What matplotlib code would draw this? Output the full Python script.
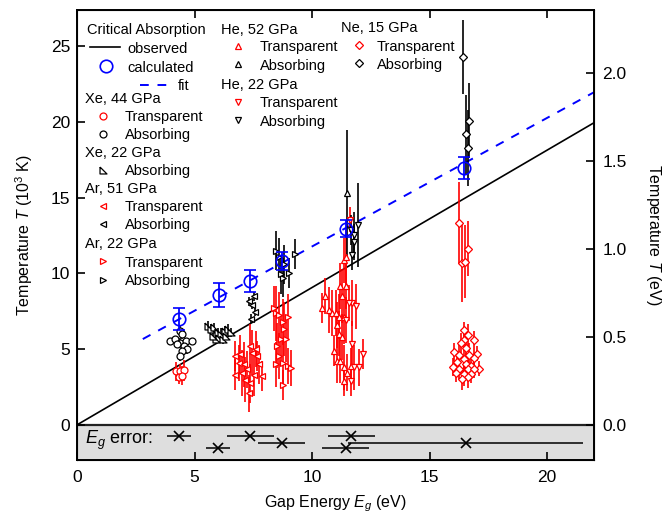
import numpy as np
import matplotlib
matplotlib.use("Agg")
import matplotlib.pyplot as plt

plt.rcParams['font.family'] = ['Liberation Sans', 'DejaVu Sans']
plt.rcParams['mathtext.fontset'] = 'custom'
plt.rcParams['mathtext.rm'] = 'Liberation Sans'
plt.rcParams['mathtext.it'] = 'Liberation Sans:italic'

K_PER_EV = 11.6045  # 10^3 K per eV

# critical absorption lines
obs_slope = 0.907
fit_slope, fit_icpt = 0.849, 3.29
fit_x0 = 2.8

# calculated points
calc_x = [4.36, 6.03, 7.38, 8.72, 11.45, 16.47]
calc_y = [7.0, 8.6, 9.5, 10.85, 12.95, 16.95]
calc_e = [0.75, 0.8, 0.7, 0.6, 0.55, 0.72]

# Xe 44 GPa
xe44_t_x = [4.23, 4.40, 4.55, 4.33, 4.48]
xe44_t_y = [3.53, 3.53, 3.60, 3.19, 3.26]
xe44_t_e = [0.6, 0.5, 0.7, 0.5, 0.6]
xe44_a_x = [4.37, 4.48, 3.97, 4.19, 4.40, 4.62, 4.91, 4.55, 4.69, 4.48, 4.40, 4.26]
xe44_a_y = [6.22, 6.00, 5.55, 5.66, 5.44, 5.55, 5.55, 5.21, 4.99, 4.87, 4.54, 5.32]
xe44_a_e = [0.3, 0.3, 0.2, 0.2, 0.3, 0.2, 0.2, 0.3, 0.3, 0.3, 0.3, 0.2]

# Xe 22 GPa
xe22_a_x = [5.56, 5.70, 5.85, 5.99, 6.14, 6.28, 6.43, 6.57, 6.06, 6.21, 5.92, 5.77, 6.35]
xe22_a_y = [6.56, 6.34, 6.45, 6.11, 6.00, 6.23, 6.34, 6.11, 5.77, 5.66, 5.66, 5.89, 5.89]
xe22_a_e = [0.3, 0.3, 0.3, 0.3, 0.4, 0.3, 0.3, 0.3, 0.3, 0.3, 0.3, 0.3, 0.3]

# Ar 51 GPa
ar51_t_x = [6.73, 6.95, 6.88, 6.73, 7.02, 7.23, 7.38, 7.45, 7.60, 7.67, 7.74, 7.89, 7.16, 7.38, 7.31, 7.52, 7.09]
ar51_t_y = [4.55, 4.66, 4.10, 3.32, 3.43, 3.66, 5.23, 4.77, 5.00, 4.55, 3.99, 3.21, 2.98, 2.75, 2.08, 3.32, 4.00]
ar51_t_e = [1.0, 1.3, 1.2, 1.0, 1.5, 1.2, 1.4, 1.5, 1.2, 1.0, 1.3, 1.0, 1.5, 1.3, 1.2, 1.4, 1.5]
ar51_a_x = [7.52, 7.34, 7.45, 7.57, 7.42]
ar51_a_y = [8.48, 8.15, 7.92, 7.47, 7.02]
ar51_a_e = [0.3, 0.3, 0.3, 0.3, 0.3]

# Ar 22 GPa
ar22_t_x = [8.39, 8.46, 8.60, 8.75, 8.97, 8.82, 8.68, 8.53, 8.60, 8.75, 8.46, 8.97, 9.11, 8.75, 8.89]
ar22_t_y = [7.70, 7.36, 7.25, 6.80, 7.13, 6.34, 5.67, 5.23, 4.55, 4.10, 3.99, 3.88, 3.77, 2.64, 5.67]
ar22_t_e = [1.5, 1.8, 1.5, 1.5, 1.5, 1.8, 1.5, 1.5, 1.5, 1.5, 1.5, 1.2, 1.2, 1.0, 1.5]
ar22_a_x = [8.46, 8.60, 8.75, 8.68, 9.04, 9.26, 8.82]
ar22_a_y = [11.51, 11.06, 9.72, 9.94, 10.05, 11.28, 10.61]
ar22_a_e = [1.3, 1.3, 1.3, 1.3, 1.0, 1.0, 1.3]

# He 52 GPa
he52_t_x = [11.36, 11.43, 11.21, 11.43, 11.29, 10.57, 10.42, 10.71, 10.85, 11.00, 11.14,
            11.36, 11.07, 11.14, 11.29, 10.92, 11.07, 11.21, 11.36, 11.50, 11.36, 11.65]
he52_t_y = [10.86, 11.09, 9.18, 9.18, 8.50, 8.50, 7.72, 7.60, 7.38, 7.38, 7.15,
            7.15, 6.60, 6.03, 5.81, 4.91, 4.24, 4.24, 3.79, 3.45, 2.89, 3.90]
he52_t_e = [1.5, 1.8, 1.5, 1.5, 1.8, 1.2, 1.0, 1.5, 1.5, 1.5, 1.5,
            1.8, 1.5, 1.5, 1.5, 1.0, 1.5, 1.5, 1.5, 1.2, 1.0, 1.2]
he52_a_x = [11.48]
he52_a_y = [15.3]
he52_a_e = [4.2]

# He 22 GPa
he22_t_x = [11.62, 11.72, 11.86, 11.57, 11.43, 11.72, 11.79, 12.01, 12.15, 11.65]
he22_t_y = [13.56, 8.05, 7.83, 8.05, 6.93, 5.36, 3.79, 3.79, 4.69, 2.89]
he22_t_e = [0.8, 1.5, 1.5, 1.2, 1.5, 1.5, 1.5, 1.2, 1.0, 1.0]
he22_a_x = [11.65, 11.79, 11.94, 11.72, 11.79]
he22_a_y = [12.88, 12.54, 13.20, 11.20, 12.09]
he22_a_e = [1.0, 1.5, 2.8, 1.0, 1.2]

# Ne 15 GPa
ne15_t_x = [16.26, 16.64, 16.37, 16.52,
            16.47, 16.62, 16.47, 16.88, 16.33, 16.54, 16.04, 17.02, 16.26, 16.69, 16.90, 16.47, 16.18,
            16.54, 16.76, 17.12, 16.00, 16.26, 16.62, 16.90, 16.11, 16.47, 16.76, 16.62, 16.40]
ne15_t_y = [13.35, 11.64, 10.70, 10.77,
            6.28, 5.94, 5.61, 5.61, 5.38, 5.05, 4.82, 4.71, 4.60, 4.60, 4.42, 4.37, 4.15,
            4.03, 3.92, 3.70, 3.81, 3.70, 3.70, 3.70, 3.40, 3.36, 3.36, 3.14, 3.03]
ne15_t_e = [2.7, 1.8, 2.6, 2.4,
            0.5, 0.7, 0.7, 0.6, 0.7, 0.8, 0.6, 0.5, 0.7, 0.8, 0.6, 0.8, 0.6,
            0.7, 0.7, 0.5, 0.6, 0.7, 0.8, 0.6, 0.6, 0.8, 0.6, 0.7, 0.7]
ne15_a_x = [16.44, 16.69, 16.57, 16.62]
ne15_a_y = [24.3, 20.1, 19.2, 18.3]
ne15_a_e = [2.45, 2.5, 2.6, 2.5]

# gap energy errors (bottom strip)
eg_x = [4.34, 6.00, 7.38, 8.72, 11.66, 11.44, 16.54]
eg_xerr = [0.49, 0.50, 1.0, 1.0, 1.0, 1.0, 5.0]
eg_row = [-0.75, -1.55, -0.75, -1.2, -0.75, -1.55, -1.2]

XMAX = 22.0
YMIN, YMAX = -2.32, 27.4

W, H = 668, 521
fig = plt.figure(figsize=(W / 100, H / 100), dpi=100)
L, R, T, B = 77, 594, 10, 460
ax = fig.add_axes([L / W, 1 - B / H, (R - L) / W, (B - T) / H])

RED = '#ff0000'
BLK = '#000000'
BLUE = '#0000ff'

tri_se = [(-1, 1), (-1, -1), (1, -1), (-1, 1)]


def series(x, y, e, marker, color, ms=5.0):
    ax.errorbar(x, y, yerr=e, fmt='none', ecolor=color, elinewidth=1.2, zorder=3)
    ax.plot(x, y, ls='none', marker=marker, ms=ms, mfc='white', mec=color, mew=0.9, zorder=4)


ax.axhspan(YMIN, 0, color='#dedede', zorder=0)
ax.axhline(0, color='#222222', lw=1.6, zorder=1)

xs = np.array([0, XMAX])
ax.plot(xs, obs_slope * xs, color='k', lw=1.2, zorder=2)
xf = np.array([fit_x0, XMAX])
ax.plot(xf, fit_slope * xf + fit_icpt, color=BLUE, lw=1.4, dashes=(4.5, 4.5), zorder=2)

series(xe44_t_x, xe44_t_y, xe44_t_e, 'o', RED)
series(xe44_a_x, xe44_a_y, xe44_a_e, 'o', BLK)
series(xe22_a_x, xe22_a_y, xe22_a_e, tri_se, BLK)
series(ar51_t_x, ar51_t_y, ar51_t_e, '<', RED)
series(ar51_a_x, ar51_a_y, ar51_a_e, '<', BLK)
series(ar22_t_x, ar22_t_y, ar22_t_e, '>', RED)
series(ar22_a_x, ar22_a_y, ar22_a_e, '>', BLK)
series(he52_t_x, he52_t_y, he52_t_e, '^', RED)
series(he22_t_x, he22_t_y, he22_t_e, 'v', RED)
series(he52_a_x, he52_a_y, he52_a_e, '^', BLK)
series(he22_a_x, he22_a_y, he22_a_e, 'v', BLK)
series(ne15_t_x, ne15_t_y, ne15_t_e, 'D', RED, ms=4.4)
series(ne15_a_x, ne15_a_y, ne15_a_e, 'D', BLK, ms=4.4)

ax.errorbar(calc_x, calc_y, yerr=calc_e, fmt='o', ms=9, mfc='none', mec=BLUE, mew=1.2,
            ecolor=BLUE, elinewidth=1.3, capsize=4.5, capthick=1.3, zorder=5)

ax.errorbar(eg_x, eg_row, xerr=eg_xerr, fmt='x', color='k', ms=7, mew=1.2,
            elinewidth=1.1, zorder=4)
ax.text(0.35, -1.0, '$E_g$ error:', fontsize=13, va='center', ha='left')

ax.set_xlim(0, XMAX)
ax.set_ylim(YMIN, YMAX)
ax.set_xticks([0, 5, 10, 15, 20])
ax.set_yticks([0, 5, 10, 15, 20, 25])
ax.tick_params(direction='in', top=True, right=False, length=6, width=1.2,
               labelsize=12.5, pad=5)
ax.tick_params(axis='x', pad=7)
for s in ax.spines.values():
    s.set_linewidth(1.4)

ax2 = ax.twinx()
ax2.set_ylim(YMIN / K_PER_EV, YMAX / K_PER_EV)
ax2.set_yticks([0, 0.5, 1.0, 1.5, 2.0])
ax2.set_yticklabels(['0.0', '0.5', '1.0', '1.5', '2.0'])
ax2.tick_params(direction='in', length=6, width=1.2, labelsize=12.5, pad=6)

ax.set_xlabel('Gap Energy $E_g$ (eV)', fontsize=11.5, labelpad=6)
ax.set_ylabel('Temperature $T$ (10$^3$ K)', fontsize=11.5, labelpad=11)
ax2.set_ylabel('Temperature $T$ (eV)', fontsize=11.5, rotation=270, labelpad=26)


# legend drawn by hand in pixel positions of the original layout
def fx(px):
    return (px - L) / (R - L)


def fy(py):
    return (B - py) / (B - T)


def ltext(px, py, s):
    ax.text(fx(px), fy(py), s, transform=ax.transAxes, fontsize=10.5,
            ha='left', va='center_baseline')


def lmark(px, py, marker, color, ms=5.0):
    ax.plot([fx(px)], [fy(py)], transform=ax.transAxes, ls='none', marker=marker,
            ms=ms, mfc='white', mec=color, mew=0.9, clip_on=False)


ltext(87, 28.6, 'Critical Absorption')
ax.plot([fx(90), fx(120)], [fy(47.3)] * 2, transform=ax.transAxes, color='k', lw=1.2)
ltext(127.5, 47.3, 'observed')
ax.plot([fx(106.4)], [fy(66)], transform=ax.transAxes, marker='o', ms=9, mfc='none',
        mec=BLUE, mew=1.2)
ltext(127.5, 66, 'calculated')
ax.plot([fx(140), fx(167)], [fy(84.6)] * 2, transform=ax.transAxes, color=BLUE, lw=1.4,
        dashes=(4.5, 4.5))
ltext(178, 84.6, 'fit')

col1 = [
    ('Xe, 44 GPa', None, None, 97.5),
    ('Transparent', 'o', RED, 115.5),
    ('Absorbing', 'o', BLK, 133.5),
    ('Xe, 22 GPa', None, None, 151.5),
    ('Absorbing', tri_se, BLK, 169.5),
    ('Ar, 51 GPa', None, None, 187.5),
    ('Transparent', '<', RED, 206),
    ('Absorbing', '<', BLK, 224),
    ('Ar, 22 GPa', None, None, 242.5),
    ('Transparent', '>', RED, 261),
    ('Absorbing', '>', BLK, 279.5),
]
for label, m, c, py in col1:
    if m is None:
        ltext(85, py, label)
    else:
        lmark(103, py, m, c)
        ltext(125, py, label)

col2 = [
    ('He, 52 GPa', None, None, 28.6),
    ('Transparent', '^', RED, 46),
    ('Absorbing', '^', BLK, 64.2),
    ('He, 22 GPa', None, None, 83.9),
    ('Transparent', 'v', RED, 102),
    ('Absorbing', 'v', BLK, 120.2),
]
for label, m, c, py in col2:
    if m is None:
        ltext(221, py, label)
    else:
        lmark(238, py, m, c)
        ltext(260, py, label)

ltext(341, 27, 'Ne, 15 GPa')
lmark(358.6, 45, 'D', RED, ms=4.4)
ltext(377, 45, 'Transparent')
lmark(358.6, 63, 'D', BLK, ms=4.4)
ltext(377, 63, 'Absorbing')

fig.savefig('out.png', dpi=100)
